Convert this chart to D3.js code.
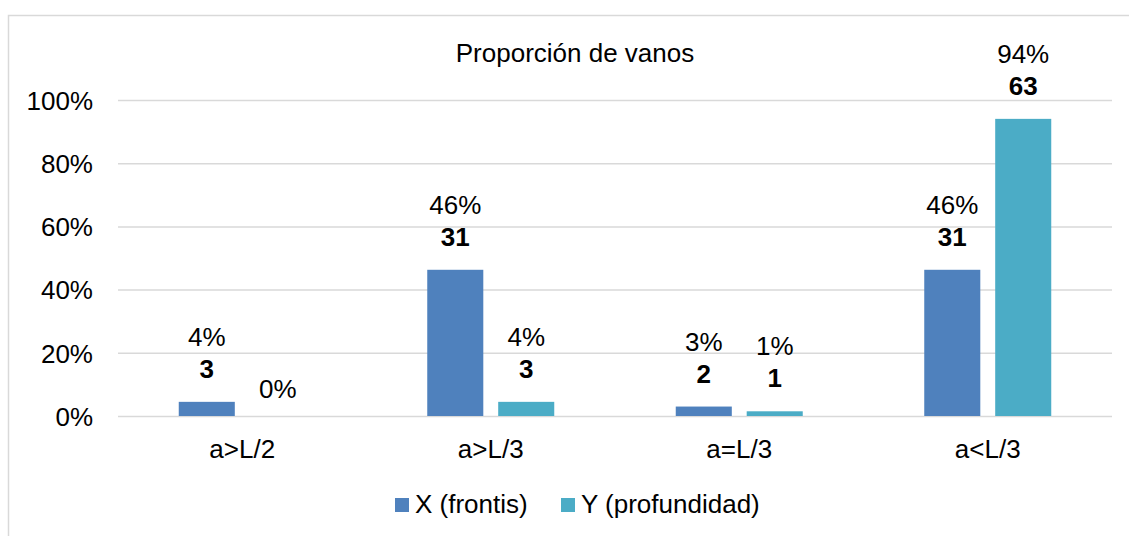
<!DOCTYPE html>
<html>
<head>
<meta charset="utf-8">
<script src="https://cdn.jsdelivr.net/npm/d3@7"></script>
<style>
  html, body { margin: 0; padding: 0; background: #fff; }
  svg { display: block; font-family: "Liberation Sans", Arial, Helvetica, sans-serif; }
</style>
</head>
<body>
<div id="chart"></div>
<script>
// categories and series
const categories = ["a>L/2", "a>L/3", "a=L/3", "a<L/3"];
const seriesNames = ["X (frontis)", "Y (profundidad)"];

// counts shown in bold over each bar
const frontisCounts = [3, 31, 2, 31];
const profundidadCounts = [0, 3, 1, 63];

// share of spans (bar heights)
const frontisShares = [0.0448, 0.4627, 0.0299, 0.4627];
const profundidadShares = [0, 0.0448, 0.0149, 0.9403];

const yTicks = [0, 0.2, 0.4, 0.6, 0.8, 1.0];

(function drawChart() {
  const config = {
    width: 1129,
    height: 536,
    plot: { left: 118, right: 1112, top: 100, bottom: 416 },
    colors: ["#4f81bd", "#4bacc6"],
    grid: "#d9d9d9",
    fontSize: "26px",
  };
  const { width, height, plot } = config;

  const data = categories.map((c, i) => ({
    category: c,
    values: [
      { series: seriesNames[0], share: frontisShares[i], count: frontisCounts[i] },
      { series: seriesNames[1], share: profundidadShares[i], count: profundidadCounts[i] },
    ],
  }));

  const svg = d3
    .select("#chart")
    .append("svg")
    .attr("width", width)
    .attr("height", height);

  // outer frame (only top/left visible in the crop)
  svg
    .append("rect")
    .attr("x", 8.5)
    .attr("y", 15.5)
    .attr("width", 1300)
    .attr("height", 700)
    .attr("fill", "none")
    .attr("stroke", config.grid)
    .attr("stroke-width", 1.5);

  const x0 = d3
    .scaleBand()
    .domain(categories)
    .range([plot.left, plot.right]);

  const x1 = d3
    .scaleBand()
    .domain(seriesNames)
    .range([x0.bandwidth() / 2 - 63.5, x0.bandwidth() / 2 + 63.5])
    .paddingInner(0.21);

  const y = d3.scaleLinear().domain([0, 1]).range([plot.bottom, plot.top]);

  // grid + y axis labels
  const yAxis = svg
    .append("g")
    .attr("transform", `translate(${plot.left}, 0)`)
    .call(
      d3.axisLeft(y)
        .tickValues(yTicks)
        .tickFormat(d3.format(".0%"))
        .tickSize(-(plot.right - plot.left))
        .tickPadding(25)
    );
  yAxis.select(".domain").remove();
  yAxis.selectAll(".tick line").attr("stroke", config.grid).attr("stroke-width", 1.5);
  yAxis
    .selectAll(".tick text")
    .attr("fill", "#000")
    .attr("font-size", config.fontSize)
    .attr("dy", "0.36em");

  // x axis labels
  const xAxis = svg
    .append("g")
    .attr("transform", `translate(0, ${plot.bottom})`)
    .call(d3.axisBottom(x0).tickSize(0).tickPadding(0));
  xAxis.select(".domain").remove();
  xAxis
    .selectAll(".tick text")
    .attr("fill", "#000")
    .attr("font-size", config.fontSize)
    .attr("dy", null)
    .attr("y", 42);

  // bars
  const groups = svg
    .selectAll(".group")
    .data(data)
    .join("g")
    .attr("class", "group")
    .attr("transform", (d) => `translate(${x0(d.category)}, 0)`);

  groups
    .selectAll("rect")
    .data((d) => d.values)
    .join("rect")
    .attr("x", (d) => x1(d.series))
    .attr("y", (d) => y(d.share))
    .attr("width", x1.bandwidth())
    .attr("height", (d) => y(0) - y(d.share))
    .attr("fill", (d, i) => config.colors[i]);

  // percent labels
  groups
    .selectAll(".pct")
    .data((d) => d.values)
    .join("text")
    .attr("class", "pct")
    .attr("x", (d) => x1(d.series) + x1.bandwidth() / 2)
    .attr("y", (d) => (d.count > 0 ? y(d.share) - 56 : y(d.share) - 18))
    .attr("text-anchor", "middle")
    .attr("font-size", config.fontSize)
    .attr("fill", "#000")
    .text((d) => d3.format(".0%")(d.share));

  // count labels
  groups
    .selectAll(".cnt")
    .data((d) => d.values.filter((v) => v.count > 0))
    .join("text")
    .attr("class", "cnt")
    .attr("x", (d) => x1(d.series) + x1.bandwidth() / 2)
    .attr("y", (d) => y(d.share) - 24)
    .attr("text-anchor", "middle")
    .attr("font-size", config.fontSize)
    .attr("font-weight", "bold")
    .attr("fill", "#000")
    .text((d) => d.count);

  // title
  svg
    .append("text")
    .attr("x", 575)
    .attr("y", 62)
    .attr("text-anchor", "middle")
    .attr("font-size", config.fontSize)
    .attr("fill", "#000")
    .text("Proporción de vanos");

  // legend
  const legendX = [395, 561];
  const legend = svg
    .selectAll(".legend")
    .data(seriesNames)
    .join("g")
    .attr("class", "legend")
    .attr("transform", (d, i) => `translate(${legendX[i]}, 498)`);

  legend
    .append("rect")
    .attr("width", 14)
    .attr("height", 14)
    .attr("fill", (d, i) => config.colors[i]);

  legend
    .append("text")
    .attr("x", 20)
    .attr("y", 15)
    .attr("font-size", config.fontSize)
    .attr("fill", "#000")
    .text((d) => d);
})();
</script>
</body>
</html>
